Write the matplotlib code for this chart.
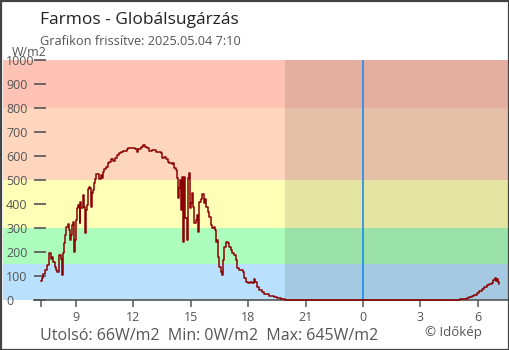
import matplotlib
matplotlib.use("Agg")
import matplotlib.pyplot as plt
from matplotlib.patches import Rectangle

# readings: hour of day (24 = midnight, >24 = next morning) and W/m2
hours = [7.17, 7.20, 7.29, 7.40, 7.48, 7.57, 7.60, 7.68, 7.75, 7.81, 7.89, 7.95,
         8.02, 8.10, 8.13, 8.20, 8.27, 8.30, 8.36, 8.41, 8.48, 8.57, 8.63, 8.69,
         8.74, 8.79, 8.83, 8.88, 8.91, 8.96, 9.00, 9.05, 9.10, 9.16, 9.19, 9.22,
         9.28, 9.35, 9.40, 9.45, 9.49, 9.52, 9.58, 9.63, 9.68, 9.73, 9.78, 9.82,
         9.87, 9.93, 9.99, 10.06, 10.15, 10.22, 10.29, 10.36, 10.40, 10.48, 10.57,
         10.66, 10.74, 10.85, 10.95, 11.05, 11.14, 11.23, 11.35, 11.47, 11.58,
         11.65, 11.73, 11.91, 12.08, 12.17, 12.26, 12.38, 12.49, 12.61, 12.73,
         12.83, 12.96, 13.08, 13.18, 13.30, 13.43, 13.51, 13.62, 13.70, 13.79,
         13.88, 14.00, 14.09, 14.14, 14.23, 14.30, 14.35, 14.40, 14.45, 14.51,
         14.56, 14.60, 14.65, 14.70, 14.79, 14.84, 14.91, 14.96, 15.01, 15.08,
         15.13, 15.18, 15.26, 15.33, 15.39, 15.45, 15.53, 15.60, 15.68, 15.74,
         15.81, 15.88, 15.97, 16.06, 16.12, 16.20, 16.27, 16.32, 16.39, 16.44,
         16.49, 16.56, 16.62, 16.67, 16.74, 16.83, 16.93, 17.00, 17.09, 17.17,
         17.26, 17.35, 17.43, 17.52, 17.63, 17.71, 17.80, 17.90, 18.01, 18.11,
         18.20, 18.29, 18.36, 18.45, 18.57, 18.71, 18.84, 19.10, 19.35, 19.52,
         19.70, 19.93, 20.10, 29.07, 29.45, 29.56, 29.68, 29.81, 29.95, 30.08,
         30.21, 30.33, 30.47, 30.59, 30.73, 30.81, 30.89, 30.95, 31.02, 31.07,
         31.13]
radiation = [79, 90, 107, 125, 145, 176, 194, 169, 180, 160, 136, 125,
             118, 153, 187, 169, 104, 194, 236, 271, 306, 315, 292, 250,
             271, 312, 326, 264, 201, 250, 333, 382, 396, 389, 319, 410,
             382, 438, 389, 333, 278, 375, 396, 462, 472, 465, 389, 444,
             458, 489, 503, 524, 524, 503, 521, 507, 535, 544, 556,
             569, 576, 586, 581, 590, 604, 614, 618, 622, 622,
             629, 635, 632, 629, 618, 629, 639, 645, 639, 632,
             621, 625, 625, 618, 615, 611, 590, 597, 587, 576,
             569, 565, 569, 549, 542, 507, 424, 465, 500, 375,
             514, 243, 514, 340, 250, 507, 528, 382, 403, 444,
             389, 319, 333, 354, 285, 410, 419, 440, 403, 419,
             389, 368, 347, 312, 299, 306, 292, 243, 250, 181,
             139, 118, 104, 167, 222, 243, 239, 219, 208, 194,
             188, 167, 132, 125, 125, 118, 90, 76, 72, 76,
             69, 89, 76, 56, 42, 35, 25, 18, 14, 7,
             3, 1, 0, 3, 7, 11, 17, 21, 28, 37,
             46, 56, 63, 67, 69, 83, 90, 79, 88, 74,
             66]

# colour bands (W/m2)
band_edges = [0, 150, 300, 500, 800, 1000]
band_colors = ["#b9e0fc", "#acfcbe", "#fefeb6", "#fed6bd", "#fec3b4"]

xtick_pos = [7.17, 9, 12, 15, 18, 21, 24, 27, 30]
xtick_labels = ["", "9", "12", "15", "18", "21", "0", "3", "6"]
ytick_pos = [0, 100, 200, 300, 400, 500, 600, 700, 800, 900, 1000]

night_start = 19.93
midnight = 24

plt.rcParams["font.family"] = ["Open Sans", "DejaVu Sans"]
grey = "#555555"

W, H = 510, 350
fig = plt.figure(figsize=(W / 100, H / 100), dpi=100)
ax = fig.add_axes([3 / W, 50 / H, 505 / W, 240 / H])

for lo, hi, c in zip(band_edges[:-1], band_edges[1:], band_colors):
    ax.axhspan(lo, hi, color=c, lw=0, zorder=0)
ax.axvspan(night_start, 40, color="black", alpha=0.1, lw=0, zorder=1)
ax.axvline(midnight, color="#0f86f5", lw=1.1, zorder=2)

ax.set_xlim(5.184, 31.58)
ax.set_ylim(0, 1000)

# x axis line and y tick dashes
ax.axhline(0, xmin=31 / 505, xmax=1, color=grey, lw=1.2, zorder=3, clip_on=False)
ax.hlines(ytick_pos, 31 / 505, 43 / 505, transform=ax.get_yaxis_transform(),
          color=grey, lw=1.2, zorder=3, clip_on=False)

ax.step(hours, radiation, where="post", color="#8b0000", lw=1.1, zorder=4, clip_on=False)

for s in ax.spines.values():
    s.set_visible(False)
ax.set_xticks(xtick_pos)
ax.set_xticklabels(xtick_labels)
ax.tick_params(axis="x", length=5.2, width=1.1, color=grey, labelcolor=grey,
               labelsize=9, pad=2.5)
ax.set_yticks(ytick_pos)
ax.set_yticklabels([str(v) for v in ytick_pos], ha="left")
ax.tick_params(axis="y", length=0, pad=-2.2, labelcolor=grey, labelsize=9)

fig.text(40.5 / W, 1 - 24 / H, "Farmos - Globálsugárzás", fontsize=12.5,
         color="#222222", va="baseline")
fig.text(40.5 / W, 1 - 45 / H, "Grafikon frissítve: 2025.05.04 7:10",
         fontsize=9.2, color=grey, va="baseline")
fig.text(12 / W, 1 - 56 / H, "W/m2", fontsize=9, color=grey, va="baseline")
fig.text(40.5 / W, 1 - 340 / H, "Utolsó: 66W/m2  Min: 0W/m2  Max: 645W/m2",
         fontsize=11.5, color=grey, va="baseline")
fig.text(425 / W, 1 - 336 / H, "© Időkép", fontsize=9.5, color=grey, va="baseline")

fig.patches.append(Rectangle((0.5 / W, 0.5 / H), 1 - 1.5 / W, 1 - 1.5 / H,
                             transform=fig.transFigure, fill=False,
                             edgecolor="#444444", lw=1.6))

fig.savefig("out.png", dpi=100)
